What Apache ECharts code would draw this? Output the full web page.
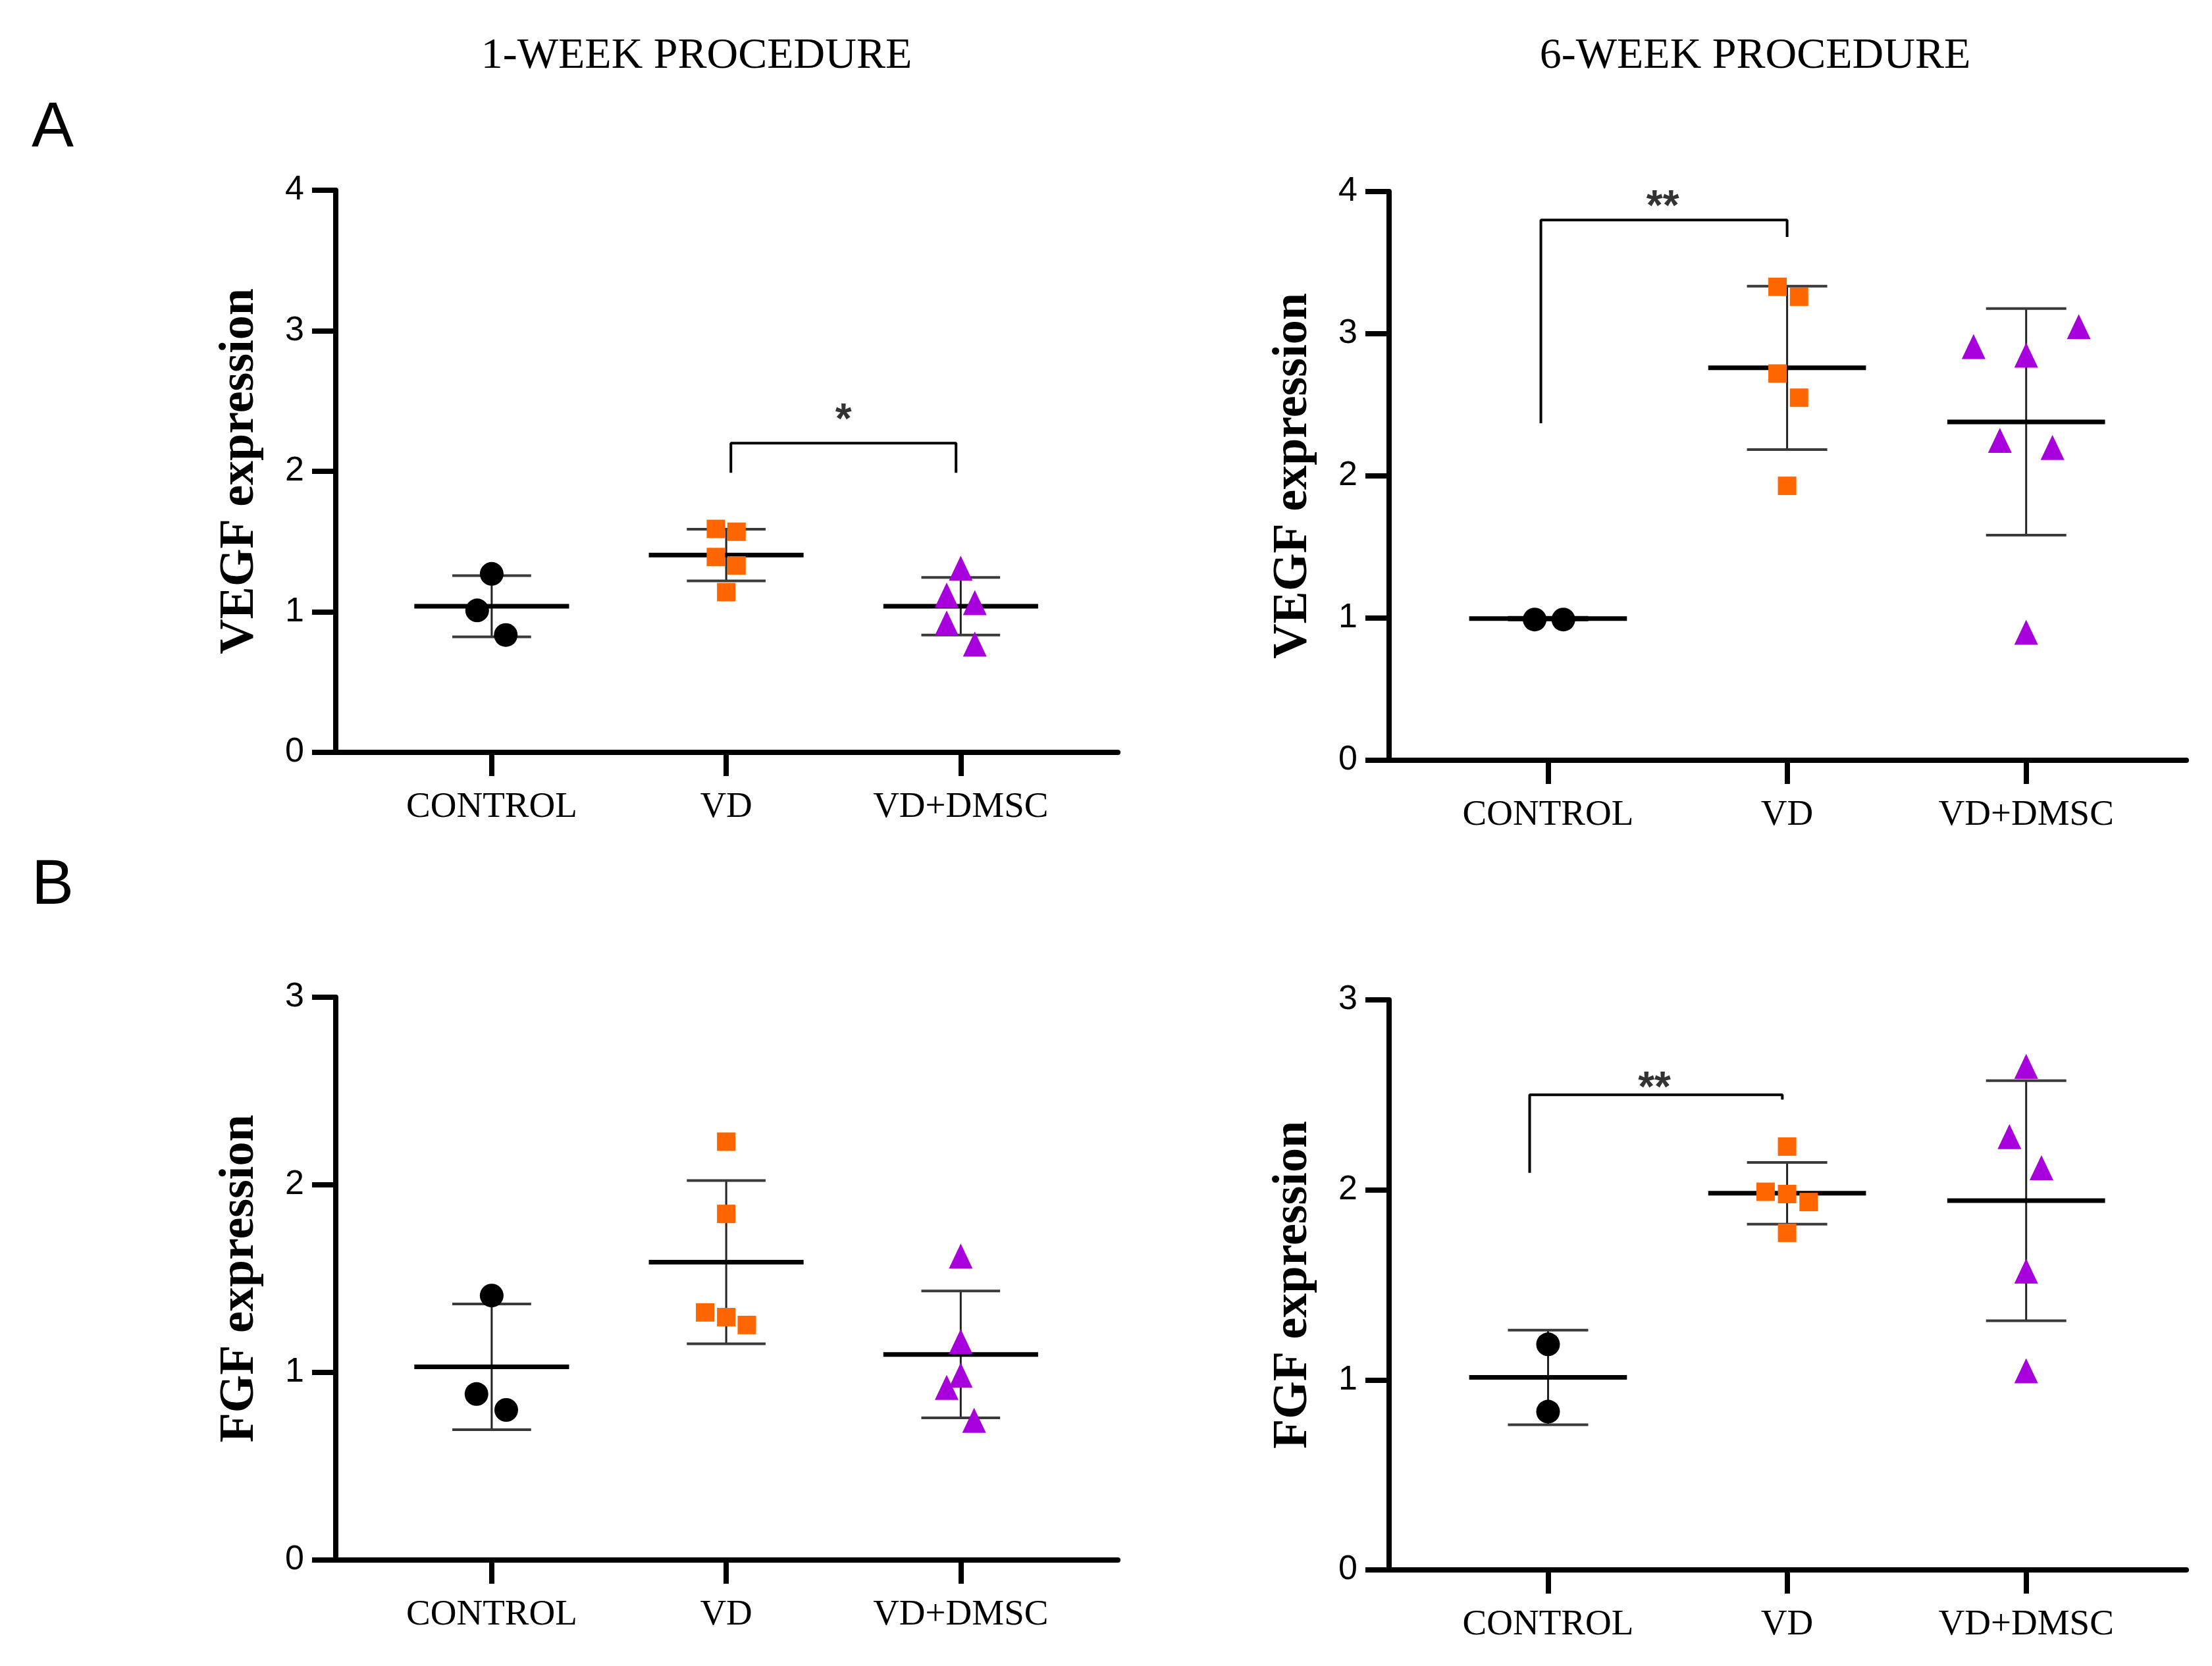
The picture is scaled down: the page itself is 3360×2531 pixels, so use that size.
<!DOCTYPE html>
<html>
<head>
<meta charset="utf-8">
<script src="https://cdn.jsdelivr.net/npm/echarts@6.0.0/dist/echarts.min.js"></script>
<style>
  html, body { margin: 0; padding: 0; background: #fff; }
  #main { width: 3360px; height: 2531px; }
</style>
</head>
<body>
<div id="main"></div>
<script>
// groups on the x axis
const categories = ['CONTROL', 'VD', 'VD+DMSC'];

// A - VEGF, 1 week
const vegf1Control = [1.27, 1.01, 0.835];
const vegf1Vd = [1.59, 1.57, 1.39, 1.33, 1.14];
const vegf1Dmsc = [1.31, 1.12, 1.065, 0.92, 0.77];
const vegf1Mean = [1.04, 1.404, 1.04];
const vegf1Sd = [0.218, 0.184, 0.205];
const vegf1Jitter = [[0, -0.062, 0.06], [-0.044, 0.044, -0.044, 0.044, 0], [0, -0.06, 0.06, -0.06, 0.06]];

// A - VEGF, 6 weeks
const vegf6Control = [0.99, 0.99];
const vegf6Vd = [3.33, 3.26, 2.72, 2.55, 1.93];
const vegf6Dmsc = [3.05, 2.91, 2.85, 2.25, 2.20, 0.90];
const vegf6Mean = [0.996, 2.76, 2.38];
const vegf6Sd = [0.01, 0.575, 0.797];
const vegf6Jitter = [[-0.056, 0.064], [-0.04, 0.05, -0.04, 0.05, 0], [0.22, -0.22, 0, -0.11, 0.11, 0]];

// B - FGF, 1 week
const fgf1Control = [1.41, 0.885, 0.80];
const fgf1Vd = [2.23, 1.845, 1.32, 1.295, 1.253];
const fgf1Dmsc = [1.62, 1.165, 0.985, 0.92, 0.745];
const fgf1Mean = [1.03, 1.588, 1.096];
const fgf1Sd = [0.335, 0.435, 0.338];
const fgf1Jitter = [[0, -0.065, 0.062], [0, 0, -0.09, 0, 0.088], [0, 0, 0, -0.06, 0.057]];

// B - FGF, 6 weeks
const fgf6Control = [1.187, 0.833];
const fgf6Vd = [2.228, 1.99, 1.978, 1.936, 1.774];
const fgf6Dmsc = [2.65, 2.28, 2.117, 1.573, 1.048];
const fgf6Mean = [1.013, 1.982, 1.943];
const fgf6Sd = [0.249, 0.162, 0.632];
const fgf6Jitter = [[0, 0], [0, -0.09, 0, 0.09, 0], [0, -0.07, 0.064, 0, 0]];

// significance brackets [x, y] and stars [x, y, text]
const bracketVegf1 = [[2.02, 1.99], [2.02, 2.20], [2.98, 2.20], [2.98, 1.99]];
const bracketVegf6 = [[0.97, 2.37], [0.97, 3.80], [2.0, 3.80], [2.0, 3.68]];
const bracketFgf6 = [[0.923, 2.09], [0.923, 2.50], [1.98, 2.50], [1.98, 2.475]];
const starVegf1 = [2.5, 2.41, '*'];
const starVegf6 = [1.48, 3.94, '**'];
const starFgf6 = [1.445, 2.57, '**'];

const yMaxVegf = 4;
const yMaxFgf = 3;

var myChart = echarts.init(document.getElementById('main'), null, { renderer: 'canvas' });

const symbols = ['circle', 'rect', 'triangle'];
const colors = ['#000000', '#FF6600', '#A800DC'];
const sizes = [36, 28, [36, 38]];

function meanSdItem(params, api) {
  var x = api.value(0), m = api.value(1), s = api.value(2);
  var c = api.coord([x, m]);
  var top = api.coord([x, m + s]);
  var bot = api.coord([x, m - s]);
  var unit = api.size([1, 0])[0];
  var half = unit * 0.33, cap = unit * 0.168;
  return {
    type: 'group',
    children: [
      { type: 'line', shape: { x1: c[0], y1: top[1], x2: c[0], y2: bot[1] }, style: { stroke: '#222', lineWidth: 3 } },
      { type: 'line', shape: { x1: c[0] - cap, y1: top[1], x2: c[0] + cap, y2: top[1] }, style: { stroke: '#3a3a3a', lineWidth: 4 } },
      { type: 'line', shape: { x1: c[0] - cap, y1: bot[1], x2: c[0] + cap, y2: bot[1] }, style: { stroke: '#3a3a3a', lineWidth: 4 } },
      { type: 'line', shape: { x1: c[0] - half, y1: c[1], x2: c[0] + half, y2: c[1] }, style: { stroke: '#000', lineWidth: 7 } }
    ]
  };
}

function panelSeries(idx, groups, jitter, mean, sd, bracket, star) {
  var out = [];
  out.push({
    type: 'custom', xAxisIndex: idx, yAxisIndex: idx, z: 2,
    encode: { x: 0, y: 1 },
    data: mean.map(function (m, i) { return [i + 1, m, sd[i]]; }),
    renderItem: meanSdItem
  });
  groups.forEach(function (vals, g) {
    out.push({
      type: 'scatter', xAxisIndex: idx, yAxisIndex: idx, z: 3,
      symbol: symbols[g], symbolSize: sizes[g],
      itemStyle: { color: colors[g], opacity: 1 },
      data: vals.map(function (v, i) { return [g + 1 + jitter[g][i], v]; })
    });
  });
  if (bracket) {
    out.push({
      type: 'line', xAxisIndex: idx, yAxisIndex: idx, z: 2,
      symbol: 'none', data: bracket,
      lineStyle: { color: '#000', width: 4 }
    });
  }
  if (star) {
    out.push({
      type: 'scatter', xAxisIndex: idx, yAxisIndex: idx, z: 4,
      symbolSize: 1, itemStyle: { color: 'rgba(0,0,0,0)' },
      data: [[star[0], star[1]]],
      label: {
        show: true, position: 'inside', formatter: star[2],
        fontFamily: 'Liberation Sans', fontSize: 64, fontWeight: 'bold', color: '#000',
        offset: [0, 12]
      }
    });
  }
  return out;
}

function xAxisOf(idx) {
  return {
    gridIndex: idx, type: 'value', min: 0.335, max: 3.67,
    axisLine: { show: true, onZero: false, lineStyle: { color: '#000', width: 8 } },
    axisTick: { show: true, customValues: [1, 2, 3], length: 36, lineStyle: { color: '#000', width: 8 } },
    axisLabel: {
      show: true, customValues: [1, 2, 3], margin: 56,
      formatter: function (v) { return categories[Math.round(v) - 1]; },
      fontFamily: 'Liberation Serif', fontSize: 55, color: '#000'
    },
    splitLine: { show: false }
  };
}

function yAxisOf(idx, max, name) {
  return {
    gridIndex: idx, type: 'value', min: 0, max: max, interval: 1,
    axisLine: { show: true, lineStyle: { color: '#000', width: 8 } },
    axisTick: { show: true, length: 36, lineStyle: { color: '#000', width: 8 } },
    axisLabel: { fontFamily: 'Liberation Sans', fontSize: 52, color: '#000', margin: 48 },
    splitLine: { show: false },
    name: name, nameLocation: 'middle', nameGap: 108,
    nameTextStyle: { fontFamily: 'Liberation Serif', fontWeight: 'bold', fontSize: 74, color: '#000' }
  };
}

myChart.setOption({
  backgroundColor: '#ffffff',
  animation: false,
  grid: [
    { left: 510, right: 1662, top: 289, bottom: 1388, outerBoundsMode: 'none' },
    { left: 2110, right: 39, top: 291, bottom: 1376, outerBoundsMode: 'none' },
    { left: 510, right: 1662, top: 1515, bottom: 161, outerBoundsMode: 'none' },
    { left: 2110, right: 39, top: 1519, bottom: 146, outerBoundsMode: 'none' }
  ],
  xAxis: [xAxisOf(0), xAxisOf(1), xAxisOf(2), xAxisOf(3)],
  yAxis: [
    yAxisOf(0, yMaxVegf, 'VEGF expression'),
    yAxisOf(1, yMaxVegf, 'VEGF expression'),
    yAxisOf(2, yMaxFgf, 'FGF expression'),
    yAxisOf(3, yMaxFgf, 'FGF expression')
  ],
  graphic: [
    { type: 'text', x: 1058, y: 86, style: { text: '1-WEEK PROCEDURE', fontFamily: 'Liberation Serif', fontSize: 66, fill: '#000', textAlign: 'center', textVerticalAlign: 'middle' } },
    { type: 'text', x: 2666, y: 86, style: { text: '6-WEEK PROCEDURE', fontFamily: 'Liberation Serif', fontSize: 66, fill: '#000', textAlign: 'center', textVerticalAlign: 'middle' } },
    { type: 'text', x: 80, y: 196, style: { text: 'A', fontFamily: 'Liberation Sans', fontSize: 96, fill: '#000', textAlign: 'center', textVerticalAlign: 'middle' } },
    { type: 'text', x: 80, y: 1347, style: { text: 'B', fontFamily: 'Liberation Sans', fontSize: 96, fill: '#000', textAlign: 'center', textVerticalAlign: 'middle' } }
  ],
  series: [].concat(
    panelSeries(0, [vegf1Control, vegf1Vd, vegf1Dmsc], vegf1Jitter, vegf1Mean, vegf1Sd, bracketVegf1, starVegf1),
    panelSeries(1, [vegf6Control, vegf6Vd, vegf6Dmsc], vegf6Jitter, vegf6Mean, vegf6Sd, bracketVegf6, starVegf6),
    panelSeries(2, [fgf1Control, fgf1Vd, fgf1Dmsc], fgf1Jitter, fgf1Mean, fgf1Sd, null, null),
    panelSeries(3, [fgf6Control, fgf6Vd, fgf6Dmsc], fgf6Jitter, fgf6Mean, fgf6Sd, bracketFgf6, starFgf6)
  )
});
</script>
</body>
</html>
